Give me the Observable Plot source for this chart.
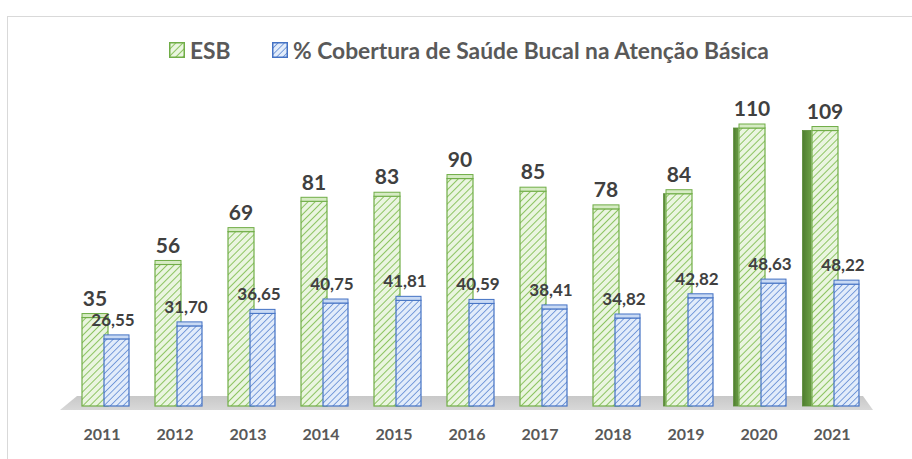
<!DOCTYPE html>
<html>
<head>
<meta charset="utf-8">
<script src="https://cdn.jsdelivr.net/npm/d3@7"></script>
<script src="https://cdn.jsdelivr.net/npm/@observablehq/plot@0.6"></script>
<style>
  html, body { margin: 0; padding: 0; background: #fff; }
  body { width: 912px; height: 459px; position: relative; overflow: hidden; font-family: Lato, "Open Sans", sans-serif; }
  #frame { position: absolute; left: 7px; top: 16px; width: 940px; height: 480px; border: 1.5px solid #d9d9d9; box-sizing: border-box; }
  #chart { position: absolute; left: 0; top: 0; }
  #legend .item { position: absolute; top: 36px; display: flex; align-items: center; font-weight: 700; font-size: 22.8px; color: #595959; white-space: nowrap; pointer-events: none; }
  #legend .item svg { margin-right: 5px; }
</style>
</head>
<body>
<div id="frame"></div>
<div id="chart"></div>
<div id="legend"></div>
<script>
// Equipes de Saúde Bucal (ESB) and % coverage of oral health in primary care, 2011–2021
const years = ["2011", "2012", "2013", "2014", "2015", "2016", "2017", "2018", "2019", "2020", "2021"];
const esbValues = [35, 56, 69, 81, 83, 90, 85, 78, 84, 110, 109];
const coberturaValues = [26.55, 31.70, 36.65, 40.75, 41.81, 40.59, 38.41, 34.82, 42.82, 48.63, 48.22];
const seriesNames = ["ESB", "% Cobertura de Saúde Bucal na Atenção Básica"];

const esbRows = years.map((year, i) => ({year, i, value: esbValues[i]}));
const covRows = years.map((year, i) => ({year, i, value: coberturaValues[i]}));

const GREEN_LINE = "#70ad47";
const BLUE_LINE = "#4472c4";
const TEXT_DARK = "#404040";
const TEXT_MID = "#595959";

// bar geometry inside each year band (band is ~74px wide)
const BAND = 813 / 11;
const G_LEFT = 17, G_RIGHT = 30;   // green front face insets
const B_LEFT = 39, B_RIGHT = 9;    // blue front face insets

const fmtPct = v => v.toFixed(2).replace(".", ",");

// shaded side faces of the green prisms on the right half of the chart
const sideMarks = esbRows.filter(d => d.i > 6).map(d => {
  const w = 0.6 * (d.i - 6) ** 2;
  return Plot.barY([d], {
    x: "year", y: "value",
    fill: "url(#sideGreen)", stroke: "#5b8c39", strokeWidth: 0.8,
    insetLeft: G_LEFT - w, insetRight: BAND - G_LEFT
  });
});

const plot = Plot.plot({
  width: 912,
  height: 459,
  marginLeft: 60,
  marginRight: 39,
  marginTop: 128,
  marginBottom: 53,
  x: {type: "band", domain: years, padding: 0, axis: null},
  y: {domain: [0, 110], axis: null},
  marks: [
    ...sideMarks,
    // green prisms (ESB)
    Plot.barY(esbRows, {
      x: "year", y: "value",
      fill: "url(#hatchGreen)", stroke: GREEN_LINE, strokeWidth: 1.2,
      insetLeft: G_LEFT, insetRight: G_RIGHT
    }),
    Plot.barY(esbRows, {
      x: "year", y1: "value", y2: "value",
      fill: "#d6ebc4", stroke: GREEN_LINE, strokeWidth: 1,
      insetLeft: G_LEFT, insetRight: G_RIGHT, insetTop: -4
    }),
    // blue prisms (% cobertura)
    Plot.barY(covRows, {
      x: "year", y: "value",
      fill: "url(#hatchBlue)", stroke: BLUE_LINE, strokeWidth: 1.2,
      insetLeft: B_LEFT, insetRight: B_RIGHT
    }),
    Plot.barY(covRows, {
      x: "year", y1: "value", y2: "value",
      fill: "#c9daf4", stroke: BLUE_LINE, strokeWidth: 1,
      insetLeft: B_LEFT, insetRight: B_RIGHT, insetTop: -4
    }),
    // value labels
    Plot.text(esbRows, {
      x: "year", y: "value", text: d => String(d.value),
      dx: -7, dy: -19, fill: TEXT_DARK,
      fontSize: 21, fontWeight: 700, fontFamily: "Lato"
    }),
    Plot.text(covRows, {
      x: "year", y: "value", text: d => fmtPct(d.value),
      dx: 11, dy: -19, fill: TEXT_DARK,
      fontSize: 17, fontWeight: 700, fontFamily: "Lato"
    }),
    // year labels
    Plot.text(years, {
      x: d => d, y: () => 0, text: d => d,
      dy: 28, fill: TEXT_MID,
      fontSize: 16, fontWeight: 700, fontFamily: "Lato"
    })
  ]
});

const svg = d3.select(plot);
const defs = svg.insert("defs", ":first-child");

function hatch(id, bg, line, size, width) {
  const p = defs.append("pattern")
    .attr("id", id)
    .attr("patternUnits", "userSpaceOnUse")
    .attr("width", size).attr("height", size)
    .attr("patternTransform", "rotate(45)");
  p.append("rect").attr("width", size).attr("height", size).attr("fill", bg);
  p.append("line").attr("x1", 0).attr("y1", 0).attr("x2", 0).attr("y2", size)
    .attr("stroke", line).attr("stroke-width", width);
}
hatch("hatchGreen", "#eaf5e0", "#8dc462", 5, 2);
hatch("hatchBlue", "#e2ecfa", "#6f95d8", 4.5, 1.8);

const side = defs.append("linearGradient").attr("id", "sideGreen").attr("x1", 0).attr("y1", 0).attr("x2", 1).attr("y2", 0);
side.append("stop").attr("offset", 0).attr("stop-color", "#4e7d2f");
side.append("stop").attr("offset", 1).attr("stop-color", "#6b9f45");

// grey floor under the prisms, placed from the scales
const grad = defs.append("linearGradient").attr("id", "floorGrad").attr("x1", 0).attr("y1", 0).attr("x2", 0).attr("y2", 1);
grad.append("stop").attr("offset", 0).attr("stop-color", "#c8c8c8");
grad.append("stop").attr("offset", 1).attr("stop-color", "#d8d8d8");

const xr = plot.scale("x").range;
const y0 = plot.scale("y").apply(0);
const floorPts = [
  [xr[0], y0 + 4], [xr[0] + 17, y0 - 10],
  [xr[1] - 10, y0 - 10], [xr[1], y0 + 4]
];
svg.insert("polygon", "defs + *")
  .attr("points", floorPts.map(p => p.join(",")).join(" "))
  .attr("fill", "url(#floorGrad)");

document.getElementById("chart").appendChild(plot);

// legend
const legend = d3.select("#legend");
[["hatchGreen", GREEN_LINE, 169], ["hatchBlue", BLUE_LINE, 272]].forEach(([pat, col, left], k) => {
  const item = legend.append("div").attr("class", "item").style("left", left + "px");
  const ic = item.append("svg").attr("width", 16).attr("height", 16);
  ic.append("rect").attr("x", 0.75).attr("y", 0.75).attr("width", 14.5).attr("height", 14.5)
    .attr("fill", `url(#${pat})`).attr("stroke", col).attr("stroke-width", 1.5);
  item.append("span").text(seriesNames[k]);
});
</script>
</body>
</html>
